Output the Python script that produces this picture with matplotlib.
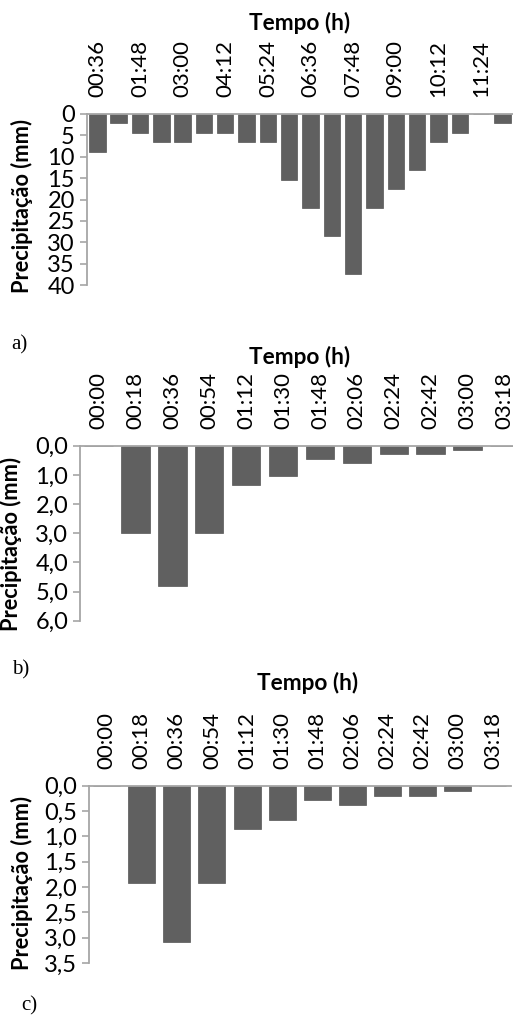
import numpy as np
import matplotlib.pyplot as plt

plt.rcParams['font.family'] = ['Lato', 'DejaVu Sans']

# dados
tempo_a = ['00:36', '01:12', '01:48', '02:24', '03:00', '03:36', '04:12', '04:48',
           '05:24', '06:00', '06:36', '07:12', '07:48', '08:24', '09:00', '09:36',
           '10:12', '10:48', '11:24', '12:00']
prec_a = [8.8, 2.2, 4.4, 6.6, 6.6, 4.4, 4.4, 6.6, 6.6, 15.4, 22.0, 28.6, 37.4,
          22.0, 17.6, 13.2, 6.6, 4.4, 0.0, 2.2]

tempo_bc = ['00:00', '00:18', '00:36', '00:54', '01:12', '01:30', '01:48',
            '02:06', '02:24', '02:42', '03:00', '03:18']
prec_b = [0.0, 3.0, 4.8, 3.0, 1.35, 1.05, 0.45, 0.6, 0.3, 0.3, 0.15, 0.0]
prec_c = [0.0, 1.93, 3.08, 1.93, 0.86, 0.68, 0.29, 0.38, 0.2, 0.2, 0.1, 0.0]

W, H = 513, 1017
fig = plt.figure(figsize=(W / 100, H / 100), dpi=100)


def box(l, t, r, b):
    return [l / W, 1 - b / H, (r - l) / W, (b - t) / H]


def painel(pos, cats, vals, yticks, ylabels, tick_every=1):
    ax = fig.add_axes(box(*pos))
    x = np.arange(len(cats))
    ax.bar(x, vals, width=0.77, color='#606060', edgecolor='#555555', lw=0.5)
    ax.set_xlim(-0.5, len(cats) - 0.5)
    ax.set_ylim(yticks[-1], 0)
    ax.xaxis.tick_top()
    ax.set_xticks(x[::tick_every])
    ax.set_xticklabels(cats[::tick_every], rotation=90, fontsize=16)
    ax.tick_params(axis='x', length=0, pad=12)
    ax.set_yticks(yticks)
    ax.set_yticklabels(ylabels, fontsize=17)
    ax.tick_params(axis='y', length=5, width=1.2, color='#a6a6a6', pad=3.5)
    for s in ['right', 'bottom']:
        ax.spines[s].set_visible(False)
    for s in ['left', 'top']:
        ax.spines[s].set_color('#a6a6a6')
        ax.spines[s].set_linewidth(1.3)
    ax.set_facecolor('none')
    return ax


ya = list(range(0, 45, 5))
painel((86.7, 114, 513, 285), tempo_a, prec_a, ya, [str(v) for v in ya], tick_every=2)
yb = [0, 1, 2, 3, 4, 5, 6]
painel((80, 445.7, 523, 620.7), tempo_bc, prec_b, yb,
       [('%.1f' % v).replace('.', ',') for v in yb])
yc = [0, 0.5, 1, 1.5, 2, 2.5, 3, 3.5]
painel((89, 785.7, 510.5, 963), tempo_bc, prec_c, yc,
       [('%.1f' % v).replace('.', ',') for v in yc])


def txt(x, y, s, **kw):
    fig.text(x / W, 1 - y / H, s, **kw)


for x, y in [(300, 23), (300, 357), (308, 683)]:
    txt(x, y, 'Tempo (h)', ha='center', va='center', fontsize=16.3, fontweight='bold')
for x, y in [(22, 206), (11, 544), (22, 883)]:
    txt(x, y, 'Precipitação (mm)', ha='center', va='center', fontsize=15.7,
        fontweight='bold', rotation=90)
for x, y, s in [(11, 345, 'a)'), (12, 670, 'b)'), (21, 1006, 'c)')]:
    txt(x, y, s, ha='left', va='center', fontsize=15, family='Liberation Serif')

fig.savefig('out.png', dpi=100)
